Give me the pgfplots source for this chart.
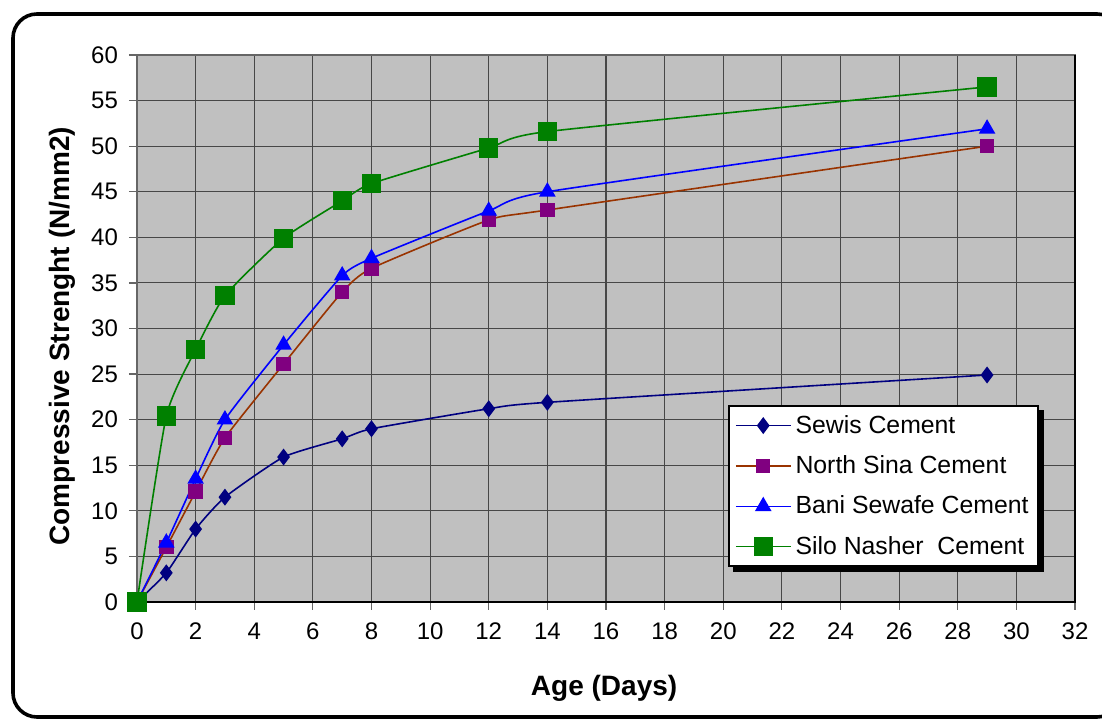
\documentclass[border=0pt]{standalone}
\usepackage{fontspec}
\setmainfont{Liberation Sans}
\usepackage{pgfplots}
\pgfplotsset{compat=1.18}
\definecolor{plotbg}{RGB}{192,192,192}
\definecolor{sewis}{RGB}{0,0,128}
\definecolor{nsline}{RGB}{153,51,0}
\definecolor{nsmark}{RGB}{128,0,128}
\definecolor{bani}{RGB}{0,0,255}
\definecolor{silo}{RGB}{0,128,0}
\begin{document}
\begin{tikzpicture}
\useasboundingbox (-68.5pt,-59.5pt) rectangle (482.5pt,301pt);
\draw[line width=1.8pt, rounded corners=12pt] (-62pt,-57.5pt) rectangle (492pt,294pt);
\begin{axis}[
  at={(0,0)}, anchor=south west, scale only axis,
  width=469pt, height=273.5pt,
  xmin=0, xmax=32, ymin=0, ymax=60,
  xtick={0,2,...,32}, ytick={0,5,...,60},
  grid=major, major grid style={black!72, line width=0.55pt},
  axis background/.style={fill=plotbg},
  axis line style={black!60, line width=0.8pt},
  tick pos=left, tick align=outside, major tick length=4pt,
  tick style={black!60, line width=0.6pt},
  tick label style={font=\fontsize{12}{14}\selectfont},
  /pgf/number format/assume math mode=true,
  yticklabel style={xshift=-2pt},
  xticklabel style={yshift=-3pt},
  xlabel={Age (Days)}, ylabel={Compressive Strenght (N/mm2)},
  label style={font=\fontsize{14}{16}\selectfont\bfseries},
  xlabel style={at={(axis description cs:0.498,-0.157)}, anchor=center},
  ylabel style={at={(axis description cs:-0.080,0.486)}, anchor=center},
  clip=false,
  legend style={name=leg, at={(0.630,0.360)}, anchor=north west, draw=black, line width=1pt, fill=white,
    font=\fontsize{12.4}{14}\selectfont, row sep=5.7pt, column sep=0.5pt, inner xsep=3pt, inner ysep=2.5pt,
    nodes={inner xsep=1.5pt}},
  legend cell align=left,
  legend image code/.code={\draw[#1, mark=none] (0pt,0pt) -- (27.5pt,0pt); \path[#1] plot coordinates {(13.75pt,0pt)};},
  every axis plot/.append style={smooth, tension=0.32, line width=0.8pt},
]
\draw[black, line width=1.2pt] (rel axis cs:0,0) -- (rel axis cs:1,0) -- (rel axis cs:1,1);
\addplot[sewis, mark=diamond*, mark size=3.6pt, mark options={fill=sewis, draw=sewis}] coordinates {
(0,0) (1,3.2) (2,8.0) (3,11.5) (5,15.9) (7,17.9) (8,19.0) (12,21.2) (14,21.9) (29,24.9)};
\addlegendentry{Sewis Cement}
\addplot[nsline, mark=square*, mark size=3.2pt, mark options={fill=nsmark, draw=nsmark}] coordinates {
(0,0) (1,6.0) (2,12.1) (3,18.0) (5,26.1) (7,34.0) (8,36.6) (12,41.9) (14,43.0) (29,50.0)};
\addlegendentry{North Sina Cement}
\addplot[bani, mark=triangle*, mark size=4pt, mark options={fill=bani, draw=bani}] coordinates {
(0,0) (1,6.5) (2,13.5) (3,20.0) (5,28.2) (7,35.8) (8,37.7) (12,42.9) (14,45.0) (29,51.9)};
\addlegendentry{Bani Sewafe Cement}
\addplot[silo, mark=square*, mark size=4.4pt, mark options={fill=silo, draw=silo}] coordinates {
(0,0) (1,20.4) (2,27.7) (3,33.6) (5,39.9) (7,44.0) (8,45.9) (12,49.8) (14,51.6) (29,56.5)};
\addlegendentry{Silo Nasher\ \ Cement}
\end{axis}
\fill[black] ([yshift=-2.5pt]leg.north east) rectangle ([xshift=2.5pt,yshift=-2.5pt]leg.south east);
\fill[black] ([xshift=2.5pt]leg.south west) rectangle ([xshift=2.5pt,yshift=-2.5pt]leg.south east);
\end{tikzpicture}
\end{document}
